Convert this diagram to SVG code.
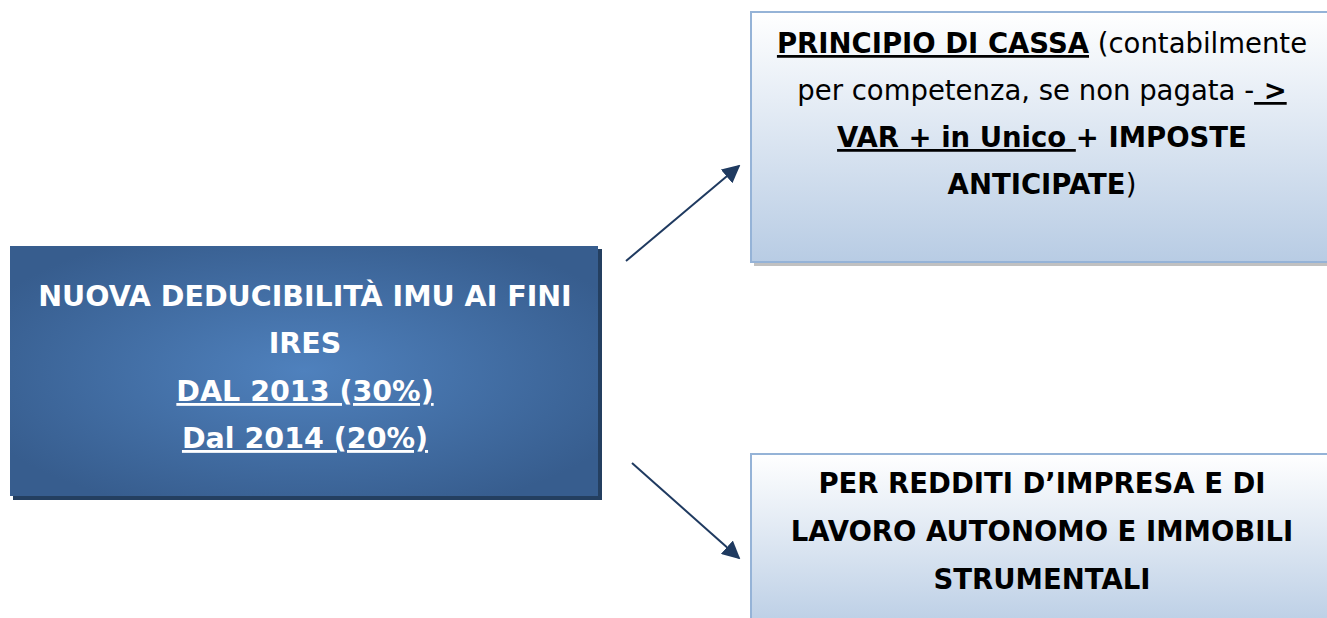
<svg xmlns="http://www.w3.org/2000/svg" width="1327" height="618" viewBox="0 0 1327 618">
<style>
text{font-family:"DejaVu Sans",Verdana,sans-serif;font-size:27.5px;text-anchor:middle}
.L{font-size:28.5px}
.b{font-weight:bold}
.u{text-decoration:underline}
.w{fill:#ffffff}
.k{fill:#000000}
</style>
<defs>
<radialGradient id="gL" cx="0.5" cy="0.5" r="0.6">
<stop offset="0" stop-color="#4f81bd"/>
<stop offset="1" stop-color="#375d8e"/>
</radialGradient>
<linearGradient id="gR" x1="0" y1="0" x2="0" y2="1">
<stop offset="0" stop-color="#ffffff"/>
<stop offset="1" stop-color="#b8cce4"/>
</linearGradient>
<marker id="ah" viewBox="0 0 10 10" refX="9" refY="5" markerWidth="9" markerHeight="9" orient="auto">
<path d="M0,0 L10,5 L0,10 z" fill="#1f3a60"/>
</marker>
</defs>
<rect width="1327" height="618" fill="#ffffff"/>
<g id="connectors">
<line x1="626" y1="261" x2="739" y2="166" stroke="#1f3a60" stroke-width="2" marker-end="url(#ah)"/>
<line x1="632" y1="463" x2="739" y2="558" stroke="#1f3a60" stroke-width="2" marker-end="url(#ah)"/>
</g>
<g id="node-main">
<rect x="13" y="249" width="589" height="251" fill="#243f60"/>
<rect x="10" y="246" width="588" height="250" fill="url(#gL)"/>
<text class="b w L" x="305" y="306">NUOVA DEDUCIBILITÀ IMU AI FINI</text>
<text class="b w L" x="305" y="353">IRES</text>
<text class="b w u L" x="305" y="401">DAL 2013 (30%)</text>
<text class="b w u L" x="305" y="448">Dal 2014 (20%)</text>
</g>
<g id="node-cassa">
<rect x="754" y="262" width="580" height="4" fill="#a6a6a6" opacity="0.7"/>
<rect x="751" y="12" width="590" height="250" fill="url(#gR)" stroke="#95b3d7" stroke-width="2"/>
<text class="k" x="1042" y="53"><tspan class="b u">PRINCIPIO DI CASSA</tspan> (contabilmente</text>
<text class="k" x="1042" y="100">per competenza, se non pagata -<tspan class="b u"> &gt;</tspan></text>
<text class="k" x="1042" y="147"><tspan class="b u">VAR + in Unico </tspan><tspan class="b">+ IMPOSTE</tspan></text>
<text class="k" x="1042" y="194"><tspan class="b">ANTICIPATE</tspan>)</text>
</g>
<g id="node-redditi">
<rect x="751" y="454" width="590" height="180" fill="url(#gR)" stroke="#95b3d7" stroke-width="2"/>
<text class="b k" x="1042" y="493">PER REDDITI D’IMPRESA E DI</text>
<text class="b k" x="1042" y="541">LAVORO AUTONOMO E IMMOBILI</text>
<text class="b k" x="1042" y="589">STRUMENTALI</text>
</g>
</svg>
